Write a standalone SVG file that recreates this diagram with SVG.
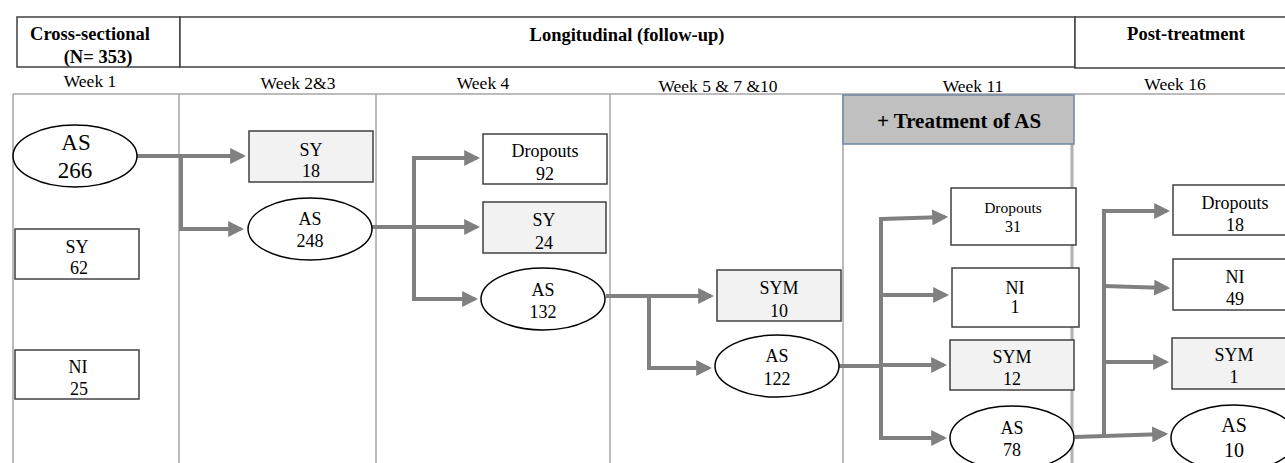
<svg xmlns="http://www.w3.org/2000/svg" width="1285" height="463" viewBox="0 0 1285 463">
<defs>
<style>
text{font-family:"Liberation Serif","Times New Roman",serif;fill:#000;text-anchor:middle}
.hd{font-weight:bold;font-size:18.5px}
.wk{font-size:17.5px}
.nt{font-size:18px}
.box{fill:#fff;stroke:#404040;stroke-width:1.5}
.gbox{fill:#f2f2f2;stroke:#404040;stroke-width:1.5}
.ell{fill:#fff;stroke:#000;stroke-width:1.5}
.grid{stroke:#a6a6a6;stroke-width:1.5;fill:none}
.hdr{fill:#fff;stroke:#404040;stroke-width:1.5}
.con{stroke:#808080;stroke-width:4;fill:none}
</style>
<marker id="ah" markerWidth="4" markerHeight="4" refX="3.2" refY="2" orient="auto" markerUnits="strokeWidth">
<path d="M0,0 L4,2 L0,4 Z" fill="#808080"/>
</marker>
</defs>
<rect width="1285" height="463" fill="#fff"/>
<g id="header">
<rect class="hdr" x="17" y="17" width="163" height="50"/>
<rect class="hdr" x="180" y="17" width="895" height="50"/>
<rect class="hdr" x="1075" y="17" width="220" height="51"/>
<text class="hd" x="90" y="40">Cross-sectional</text>
<text class="hd" x="98" y="63">(N= 353)</text>
<text class="hd" x="627" y="41">Longitudinal (follow-up)</text>
<text class="hd" x="1186" y="40">Post-treatment</text>
</g>
<g id="weeks">
<text class="wk" x="90" y="87">Week 1</text>
<text class="wk" x="298" y="89">Week 2&amp;3</text>
<text class="wk" x="483" y="89">Week 4</text>
<text class="wk" x="718" y="92">Week 5 &amp; 7 &amp;10</text>
<text class="wk" x="973" y="92">Week 11</text>
<text class="wk" x="1175" y="90">Week 16</text>
</g>
<g id="grid">
<path class="grid" d="M13,94 H1285 M13,94 V463 M179,94 V463 M376,94 V463 M610,94 V463 M843,94 V463"/>
<path d="M1072,144 V463" stroke="#b0b0b0" stroke-width="3" fill="none"/>
</g>
<g id="treatment">
<rect x="843" y="95" width="231" height="49" fill="#c0c0c0" stroke="#6f87a0" stroke-width="1.5"/>
<text x="959" y="128" style="font-size:21px;font-weight:bold">+ Treatment of AS</text>
</g>
<g id="connectors">
<path class="con" d="M137,156 H181 V229 H241" marker-end="url(#ah)"/>
<path class="con" d="M181,156 H243" marker-end="url(#ah)"/>
<path class="con" d="M372,227 H477" marker-end="url(#ah)"/>
<path class="con" d="M414,227 V158 H477" marker-end="url(#ah)"/>
<path class="con" d="M414,227 V299 H475" marker-end="url(#ah)"/>
<path class="con" d="M606,296 H711" marker-end="url(#ah)"/>
<path class="con" d="M649,296 V368 H709" marker-end="url(#ah)"/>
<path class="con" d="M839,366 H881"/>
<path class="con" d="M881,217 V438 H944" marker-end="url(#ah)"/>
<path class="con" d="M881,219 L945,217" marker-end="url(#ah)"/>
<path class="con" d="M881,295 H946" marker-end="url(#ah)"/>
<path class="con" d="M881,365 H944" marker-end="url(#ah)"/>
<path class="con" d="M1075,437 L1165,434" marker-end="url(#ah)"/>
<path class="con" d="M1104,436 V211 H1167" marker-end="url(#ah)"/>
<path class="con" d="M1104,286 L1167,288" marker-end="url(#ah)"/>
<path class="con" d="M1104,362 H1166" marker-end="url(#ah)"/>
</g>
<g id="as266"><ellipse class="ell" cx="75" cy="156" rx="62" ry="31"/><text x="76" y="150" style="font-size:23px">AS</text><text x="75" y="178" style="font-size:23px">266</text></g>
<g id="sy62"><rect class="box" x="15" y="229" width="124" height="50"/><text class="nt" x="77" y="253">SY</text><text class="nt" x="79" y="274">62</text></g>
<g id="ni25"><rect class="box" x="15" y="350" width="124" height="49"/><text class="nt" x="78" y="373">NI</text><text class="nt" x="79" y="395">25</text></g>
<g id="sy18"><rect class="gbox" x="249" y="131" width="124" height="51"/><text class="nt" x="311" y="156">SY</text><text class="nt" x="311" y="177">18</text></g>
<g id="as248"><ellipse class="ell" cx="310" cy="229" rx="62" ry="31"/><text class="nt" x="310" y="225">AS</text><text class="nt" x="310" y="247">248</text></g>
<g id="drop92"><rect class="box" x="483" y="134" width="124" height="50"/><text class="nt" x="545" y="157">Dropouts</text><text class="nt" x="545" y="180">92</text></g>
<g id="sy24"><rect class="gbox" x="483" y="202" width="123" height="51"/><text class="nt" x="544" y="226">SY</text><text class="nt" x="544" y="249">24</text></g>
<g id="as132"><ellipse class="ell" cx="543" cy="299" rx="62" ry="31"/><text class="nt" x="543" y="296">AS</text><text class="nt" x="543" y="318">132</text></g>
<g id="sym10"><rect class="gbox" x="717" y="270" width="124" height="51"/><text class="nt" x="779" y="294">SYM</text><text class="nt" x="779" y="317">10</text></g>
<g id="as122"><ellipse class="ell" cx="777" cy="366" rx="62" ry="31"/><text class="nt" x="777" y="362">AS</text><text class="nt" x="777" y="385">122</text></g>
<g id="drop31"><rect class="box" x="951" y="188" width="125" height="57"/><text x="1013" y="213" style="font-size:15.5px">Dropouts</text><text x="1013" y="232" style="font-size:16px">31</text></g>
<g id="ni1"><rect class="box" x="952" y="268" width="127" height="59"/><text class="nt" x="1015" y="294">NI</text><text class="nt" x="1015" y="313">1</text></g>
<g id="sym12"><rect class="gbox" x="950" y="340" width="124" height="50"/><text class="nt" x="1012" y="363">SYM</text><text class="nt" x="1012" y="385">12</text></g>
<g id="as78"><ellipse class="ell" cx="1012" cy="438" rx="62" ry="32"/><text class="nt" x="1012" y="434">AS</text><text class="nt" x="1012" y="456">78</text></g>
<g id="drop18"><rect class="box" x="1173" y="185" width="118" height="50"/><text class="nt" x="1235" y="209">Dropouts</text><text class="nt" x="1235" y="231">18</text></g>
<g id="ni49"><rect class="box" x="1173" y="259" width="118" height="51"/><text class="nt" x="1235" y="283">NI</text><text class="nt" x="1235" y="305">49</text></g>
<g id="sym1"><rect class="gbox" x="1172" y="338" width="119" height="51"/><text class="nt" x="1234" y="361">SYM</text><text class="nt" x="1234" y="383">1</text></g>
<g id="as10"><ellipse class="ell" cx="1234" cy="438" rx="63" ry="33"/><text x="1234" y="432" style="font-size:20px">AS</text><text x="1234" y="457" style="font-size:20px">10</text></g>
</svg>
